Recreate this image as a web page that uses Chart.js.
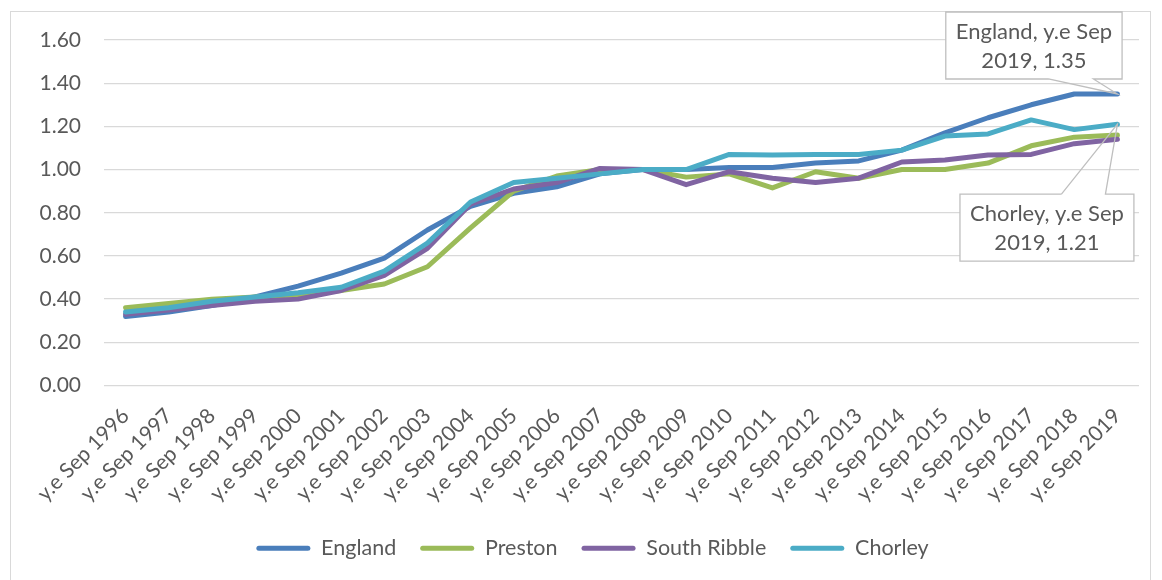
<!DOCTYPE html>
<html>
<head>
<meta charset="utf-8">
<title>Affordability ratio index</title>
<script src="https://cdn.jsdelivr.net/npm/chart.js@4.4.1/dist/chart.umd.min.js"></script>
<style>
  html, body { margin: 0; padding: 0; background: #ffffff; }
  #wrap { position: relative; width: 1162px; height: 580px; overflow: hidden; }
  #frame {
    position: absolute; left: 10px; top: 11px; width: 1141px; height: 640px;
    border: 1.3px solid #d9d9d9; box-sizing: border-box;
  }
  canvas { position: absolute; left: 0; top: 0; }
</style>
</head>
<body>
<div id="wrap">
  <div id="frame"></div>
  <canvas id="chart" width="1162" height="580"></canvas>
</div>
<script>
// Year ending September, 1996 to 2019
const categories = [
  'y.e Sep 1996', 'y.e Sep 1997', 'y.e Sep 1998', 'y.e Sep 1999', 'y.e Sep 2000',
  'y.e Sep 2001', 'y.e Sep 2002', 'y.e Sep 2003', 'y.e Sep 2004', 'y.e Sep 2005',
  'y.e Sep 2006', 'y.e Sep 2007', 'y.e Sep 2008', 'y.e Sep 2009', 'y.e Sep 2010',
  'y.e Sep 2011', 'y.e Sep 2012', 'y.e Sep 2013', 'y.e Sep 2014', 'y.e Sep 2015',
  'y.e Sep 2016', 'y.e Sep 2017', 'y.e Sep 2018', 'y.e Sep 2019'
];

const england = [0.32, 0.34, 0.37, 0.41, 0.46, 0.52, 0.59, 0.72, 0.83, 0.89, 0.92, 0.98,
                 1.00, 1.00, 1.01, 1.01, 1.03, 1.04, 1.09, 1.17, 1.24, 1.30, 1.35, 1.35];
const preston = [0.36, 0.38, 0.40, 0.41, 0.42, 0.44, 0.47, 0.55, 0.73, 0.90, 0.97, 1.00,
                 1.00, 0.965, 0.98, 0.915, 0.99, 0.96, 1.00, 1.00, 1.03, 1.11, 1.15, 1.16];
const southRibble = [0.33, 0.35, 0.37, 0.39, 0.40, 0.44, 0.51, 0.635, 0.84, 0.91, 0.94, 1.005,
                     1.00, 0.93, 0.99, 0.96, 0.94, 0.96, 1.035, 1.044, 1.067, 1.07, 1.12, 1.14];
const chorley = [0.34, 0.36, 0.39, 0.41, 0.43, 0.455, 0.53, 0.66, 0.85, 0.94, 0.96, 0.98,
                 1.00, 1.00, 1.07, 1.067, 1.07, 1.07, 1.09, 1.155, 1.165, 1.23, 1.185, 1.21];

const yTicks = [0, 0.2, 0.4, 0.6, 0.8, 1.0, 1.2, 1.4, 1.6];

const seriesNames = ['England', 'Preston', 'South Ribble', 'Chorley'];
const seriesColors = ['#4a7ebb', '#9bbb59', '#8064a2', '#4bacc6'];
const seriesValues = [england, preston, southRibble, chorley];

const FONT = 'Lato, "Noto Sans", "DejaVu Sans", sans-serif';
const TEXT = '#595959';
const GRID = '#d9d9d9';

// Callout labels on the final points (dataset, point index, box placement)
const callouts = [
  { dataset: 0, index: 23, cx: -83.5, top: -82, side: 'below', wedge: [-69, -24] },
  { dataset: 3, index: 23, cx: -70.5, top: 70, side: 'above', wedge: [-56, -12] }
];

const calloutPlugin = {
  id: 'callouts',
  afterDraw(chart) {
    const ctx = chart.ctx;
    ctx.save();
    ctx.font = '22px ' + FONT;
    callouts.forEach(c => {
      const meta = chart.getDatasetMeta(c.dataset);
      const pt = meta.data[c.index];
      const px = pt.x, py = pt.y;
      const name = chart.data.datasets[c.dataset].label;
      const cat = chart.data.labels[c.index];
      const value = chart.data.datasets[c.dataset].data[c.index];
      const cut = cat.lastIndexOf(' ');
      const lines = [
        name + ', ' + cat.slice(0, cut),
        cat.slice(cut + 1) + ', ' + value.toFixed(2)
      ];
      const w = Math.max(...lines.map(l => ctx.measureText(l).width)) + 20;
      const h = 67;
      const left = px + c.cx - w / 2, right = left + w;
      const top = py + c.top, bottom = top + h;
      ctx.fillStyle = '#ffffff';
      ctx.fillRect(left, top, w, h);
      ctx.strokeStyle = '#bfbfbf';
      ctx.lineWidth = 1.3;
      ctx.beginPath();
      const wl = px + c.wedge[0], wr = px + c.wedge[1];
      if (c.side === 'below') {
        ctx.moveTo(wl, bottom);
        ctx.lineTo(left, bottom);
        ctx.lineTo(left, top);
        ctx.lineTo(right, top);
        ctx.lineTo(right, bottom);
        ctx.lineTo(wr, bottom);
        ctx.lineTo(px, py);
        ctx.lineTo(wl, bottom);
      } else {
        ctx.moveTo(wl, top);
        ctx.lineTo(left, top);
        ctx.lineTo(left, bottom);
        ctx.lineTo(right, bottom);
        ctx.lineTo(right, top);
        ctx.lineTo(wr, top);
        ctx.lineTo(px, py);
        ctx.lineTo(wl, top);
      }
      ctx.stroke();
      ctx.fillStyle = TEXT;
      ctx.textAlign = 'center';
      ctx.textBaseline = 'middle';
      const mid = (left + right) / 2;
      ctx.fillText(lines[0], mid, top + 20);
      ctx.fillText(lines[1], mid, top + 49);
    });
    ctx.restore();
  }
};

// Nudge the legend row sideways under the plot
const legendShift = {
  id: 'legendShift',
  afterLayout(chart) {
    const lg = chart.legend;
    const dx = 18;
    lg.left += dx; lg.right += dx;
  }
};

new Chart(document.getElementById('chart'), {
  type: 'line',
  data: {
    labels: categories,
    datasets: seriesNames.map((name, i) => ({
      label: name,
      data: seriesValues[i],
      borderColor: seriesColors[i],
      backgroundColor: seriesColors[i],
      borderWidth: 5,
      borderCapStyle: 'round',
      borderJoinStyle: 'round',
      pointRadius: 0,
      pointHoverRadius: 0,
      tension: 0,
      fill: false,
      order: seriesNames.length - i
    }))
  },
  options: {
    responsive: false,
    animation: false,
    events: [],
    layout: { padding: { left: 10, right: 23, top: 40, bottom: 11 } },
    scales: {
      x: {
        offset: true,
        grid: { display: false },
        border: { display: false },
        ticks: {
          autoSkip: false,
          maxRotation: 45,
          minRotation: 45,
          padding: 10,
          color: TEXT,
          font: { family: FONT, size: 21 }
        },
        afterFit(scale) { scale.height = 128; }
      },
      y: {
        min: 0,
        max: 1.6,
        afterBuildTicks(scale) { scale.ticks = yTicks.map(v => ({ value: v })); },
        ticks: {
          padding: 23,
          color: TEXT,
          font: { family: FONT, size: 21 },
          callback: v => Number(v).toFixed(2)
        },
        grid: { color: GRID, lineWidth: 1.3, drawTicks: false },
        border: { display: false },
        afterFit(scale) { scale.width = 94; }
      }
    },
    plugins: {
      tooltip: { enabled: false },
      legend: {
        position: 'bottom',
        labels: {
          boxWidth: 54,
          boxHeight: 5,
          padding: 24,
          color: TEXT,
          font: { family: FONT, size: 21.5 },
          sort: (a, b) => a.datasetIndex - b.datasetIndex,
          generateLabels(chart) {
            const items = Chart.defaults.plugins.legend.labels.generateLabels(chart);
            items.forEach(it => {
              it.fillStyle = it.strokeStyle;
              it.lineWidth = 0;
              it.borderRadius = 2.5;
            });
            return items;
          }
        }
      }
    }
  },
  plugins: [calloutPlugin, legendShift]
});
</script>
</body>
</html>
